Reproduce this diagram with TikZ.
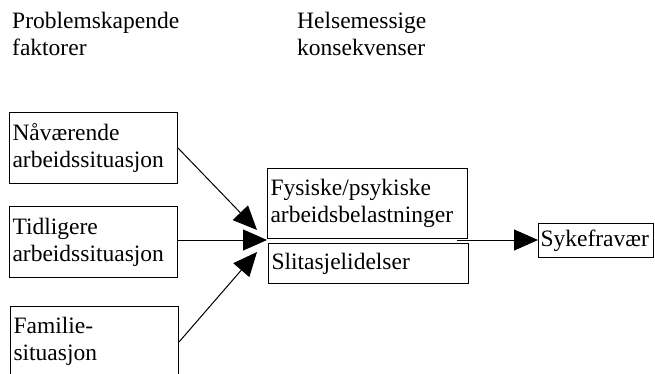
\documentclass[tikz,border=0pt]{standalone}
\usepackage{fontspec}
\setmainfont{Liberation Serif}
\usetikzlibrary{arrows.meta}
\begin{document}
\begin{tikzpicture}[x=1pt,y=-1pt,
  every node/.style={font=\fontsize{23.5}{27}\selectfont},
  hdr/.style={anchor=north west,inner sep=0pt,align=left},
  factor/.style={draw,line width=1pt,anchor=north west,inner sep=0pt,
    align=left,text width=#1},
  conn/.style={line width=1pt,-{Triangle[length=24pt,width=21pt]}}
]
\useasboundingbox (0,0) rectangle (655,374);
\clip (0,0) rectangle (655,374);

% column headings
\node[hdr] (hprob) at (12,12) {Problemskapende\\faktorer};
\node[hdr] (hhels) at (297,12) {Helsemessige\\konsekvenser};

% problem-causing factors
\node[factor=168pt,minimum height=71pt] (naa) at (9,112) {\hspace*{3pt}Nåværende\\\hspace*{3pt}arbeidssituasjon};
\node[factor=168pt,minimum height=71pt] (tid) at (9,206) {\hspace*{3pt}Tidligere\\\hspace*{3pt}arbeidssituasjon};
\node[factor=168pt,inner ysep=11pt] (fam) at (10,306) {\hspace*{3pt}Familie-\\\hspace*{3pt}situasjon};

% health consequences
\node[factor=200pt,minimum height=70pt] (fys) at (267,168) {\hspace*{3pt}Fysiske/psykiske\\\hspace*{3pt}arbeidsbelastninger};
\node[factor=200pt,minimum height=40pt] (sli) at (268,243) {\hspace*{3pt}Slitasjelidelser};
\node[factor=115pt,minimum height=34pt] (syk) at (538,223) {\hspace*{2pt}Sykefravær};

% connectors
\coordinate (t1) at (257,230);
\coordinate (t2) at (267,240);
\coordinate (t3) at (257,252);
\coordinate (s0) at (457,240);
\draw[conn] (naa.east |- 0,148) -- (t1);
\draw[conn] (tid.east |- t2) -- (t2);
\draw[conn] (fam.east |- 0,342) -- (t3);
\draw[conn] (s0) -- (syk.west |- s0);
\end{tikzpicture}
\end{document}
